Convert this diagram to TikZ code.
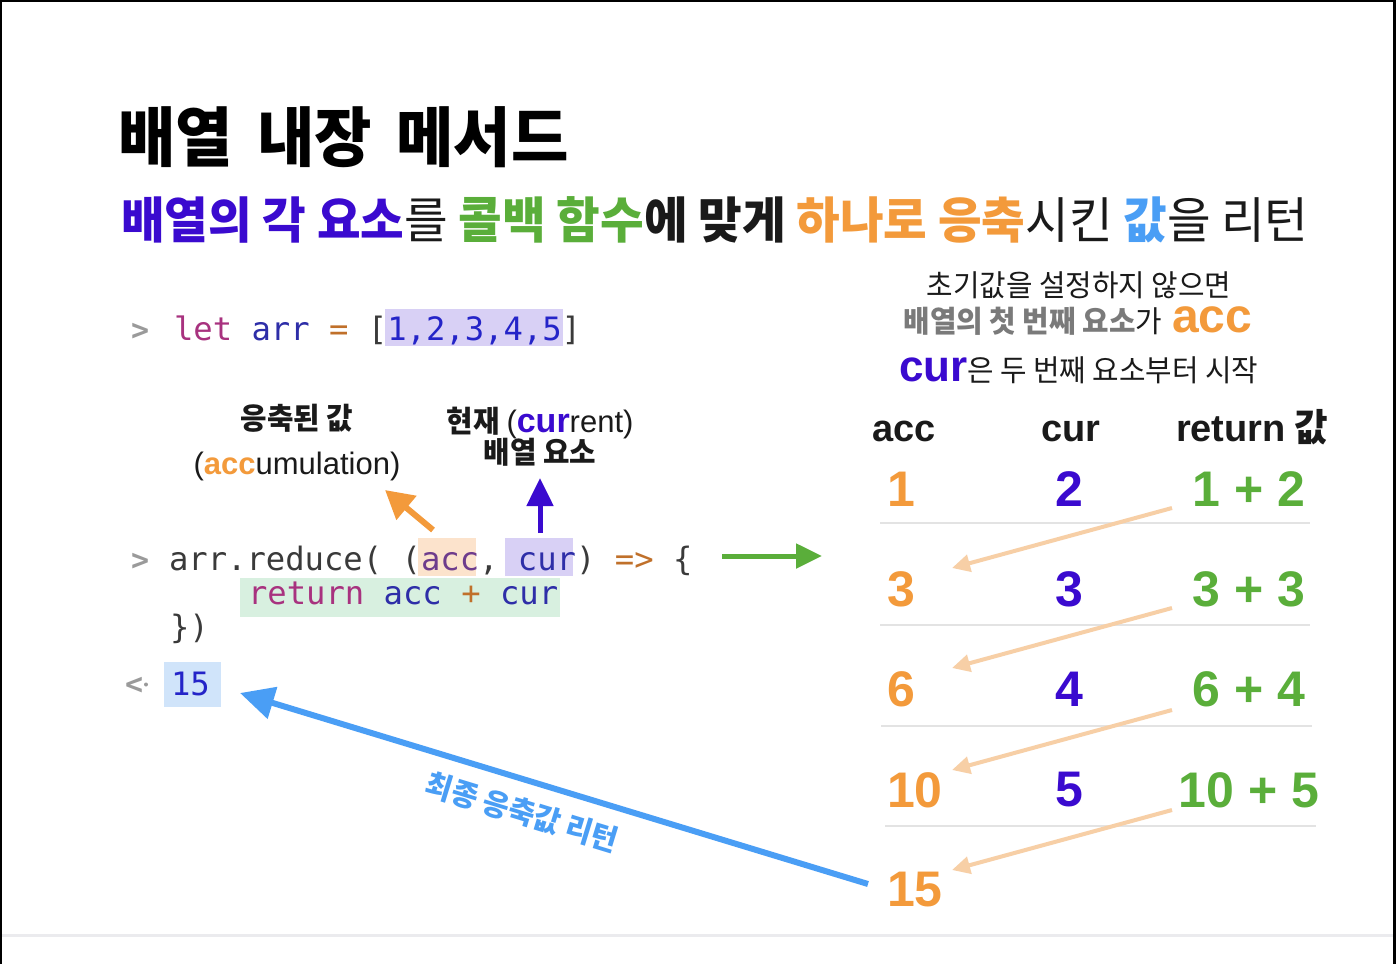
\documentclass[tikz,border=0pt]{standalone}
\usepackage{fontspec}
\usetikzlibrary{arrows.meta}
\newfontfamily\kr{Noto Sans CJK KR}[FakeStretch=0.96]
\newfontfamily\hv{Liberation Sans}
\newfontfamily\mono{DejaVu Sans Mono}
\newcommand\fsz[1]{\fontsize{#1}{#1}\selectfont}
\definecolor{cpurple}{HTML}{3A0ACF}
\definecolor{cgreen}{HTML}{5AAE3A}
\definecolor{corange}{HTML}{F39A3B}
\definecolor{cblue}{HTML}{4A9EF5}
\definecolor{lorange}{HTML}{F7CFA6}
\definecolor{cgray}{HTML}{7A7A7A}
\definecolor{ctext}{HTML}{1A1A1A}
\definecolor{cprompt}{HTML}{9A9A9A}
\definecolor{cmag}{HTML}{A8327F}
\definecolor{cdblue}{HTML}{2E2EA8}
\definecolor{cnum}{HTML}{2424C8}
\definecolor{ceq}{HTML}{C0702A}
\definecolor{cdark}{HTML}{3A3A3A}
\definecolor{cacc}{HTML}{6E3C8C}
\definecolor{hlpurple}{HTML}{D8D0F5}
\definecolor{hlorange}{HTML}{FCE3CC}
\definecolor{hlgreen}{HTML}{D8F0E0}
\definecolor{hlblue}{HTML}{D0E4FA}
\definecolor{sepgray}{HTML}{E3E3E3}
\definecolor{botgray}{HTML}{EBEBEE}
\begin{document}
\begin{tikzpicture}[x=1pt,y=-1pt,
  every node/.style={inner sep=0pt,outer sep=0pt},
  code/.style={font=\mono\fsz{32.2}},
  prompt/.style={font=\mono\bfseries\fsz{30},text=cprompt},
  tnum/.style={font=\hv\bfseries\fsz{50}},
  thead/.style={font=\hv\bfseries\fsz{38},text=ctext},
  lbl/.style={font=\kr\bfseries\fsz{30},text=ctext},
  stepline/.style={draw=lorange,line width=4pt,-{Triangle[length=18pt,width=17pt]}},
  sepline/.style={draw=sepgray,line width=2pt}
]
\path[fill=white] (0,0) rectangle (1396,964);
\useasboundingbox (0,0) rectangle (1396,964);
% frame
\draw[black,line width=2.5pt] (0,1.2) -- (1396,1.2);
\draw[black,line width=2pt] (1,0) -- (1,964);
\draw[black,line width=3pt] (1394.5,0) -- (1394.5,964);
\draw[draw=botgray,line width=3pt] (2,935) -- (1393,935);

% title
\node[anchor=west,font=\kr\bfseries\fsz{65},text=black] (title) at (118,137) {배열\hspace{10pt} 내장\hspace{10pt} 메서드};
% subtitle
\node[anchor=west,font=\kr\fsz{49.4},text=ctext] (sub) at (121,220)
 {{\bfseries\color{cpurple}배열의 각 요소}를 {\bfseries\color{cgreen}콜백 함수}{\bfseries 에 맞게} {\bfseries\color{corange}하나로 응축}시킨 {\bfseries\color{cblue}값}을 리턴};

% highlights
\fill[hlpurple] (385,309) rectangle (563,346);
\fill[hlorange] (418,538) rectangle (476,576);
\fill[hlpurple] (505,538) rectangle (573,576);
\fill[hlgreen] (240,578) rectangle (560,617);
\fill[hlblue] (164,662) rectangle (221,707);

% code
\node[prompt,anchor=base west] (p1) at (131,340) {>};
\node[code,anchor=base west] (l1) at (174,340)
 {\textcolor{cmag}{let} \textcolor{cdblue}{arr} \textcolor{ceq}{=} \textcolor{cdark}{[}\textcolor{cnum}{1,2,3,4,5}\textcolor{cdark}{]}};
\node[prompt,anchor=base west] (p2) at (131,570) {>};
\node[code,anchor=base west] (l2) at (169,570)
 {\textcolor{cdark}{arr.reduce( (}\textcolor{cacc}{acc}\textcolor{cdark}{,} \textcolor{cdblue}{cur}\textcolor{cdark}{)} \textcolor{ceq}{=>} \textcolor{cdark}{\{}};
\node[code,anchor=base west] (l3) at (248,604)
 {\textcolor{cmag}{return} \textcolor{cdblue}{acc} \textcolor{ceq}{+} \textcolor{cdblue}{cur}};
\node[code,anchor=base west,text=cdark] (l4) at (170,638) {\})};
\node[prompt,anchor=base west] (p5) at (125,694) {<};
\fill[cprompt] (146,684.5) circle (2pt);
\node[code,anchor=base west,text=cnum] (res) at (171,695) {15};

% labels
\node[lbl,anchor=center] (lab1) at (297,418) {응축된 값};
\node[anchor=base,font=\hv\fsz{31},text=ctext] (lab2) at (297,474)
 {({\bfseries\color{corange}acc}umulation)};
\node[anchor=base,text=ctext] (lab3) at (540,432)
 {{\kr\bfseries\fsz{30}현재}\hspace{7pt}{\hv\fsz{31}(}{\hv\bfseries\fsz{34}\color{cpurple}cur}{\hv\fsz{31}rent)}};
\node[lbl,anchor=center] (lab4) at (540,452) {배열 요소};

\coordinate (oa1) at (433,530); \coordinate (oa2) at (385,490);
\draw[draw=corange,line width=6pt,-{Triangle[length=28pt,width=30pt]}] (oa1) -- (oa2);
\coordinate (pa1) at (540,533); \coordinate (pa2) at (540,478);
\draw[draw=cpurple,line width=5pt,-{Triangle[length=28pt,width=26pt]}] (pa1) -- (pa2);
\coordinate (ga1) at (722,556); \coordinate (ga2) at (822,556);
\draw[draw=cgreen,line width=5pt,-{Triangle[length=26pt,width=24pt]}] (ga1) -- (ga2);

% right note
\node[anchor=center,font=\kr\fsz{30},text=ctext] (n1) at (1079,285) {초기값을 설정하지 않으면};
\node[anchor=base,text=ctext] (n2) at (1078,332)
 {{\kr\bfseries\fsz{30}\color{cgray}배열의 첫 번째 요소}{\kr\fsz{30}가}\hspace{10pt}{\hv\bfseries\fsz{48}\color{corange}acc}};
\node[anchor=base west,text=ctext] (n3) at (899,381)
 {{\hv\bfseries\fsz{44}\color{cpurple}cur}{\kr\fsz{30}은 두 번째 요소부터 시작}};

% table
\node[thead,anchor=base west] (h1) at (872,441) {acc};
\node[thead,anchor=base] (h2) at (1071,441) {cur};
\node[thead,anchor=base west] (h3) at (1176,441) {return\hspace{9pt}{\kr\bfseries 값}};

\node[tnum,anchor=west,text=corange] (a1) at (887,489) {1};
\node[tnum,anchor=west,text=corange] (a2) at (887,589) {3};
\node[tnum,anchor=west,text=corange] (a3) at (887,689) {6};
\node[tnum,anchor=west,text=corange] (a4) at (887,790) {10};
\node[tnum,anchor=west,text=corange] (a5) at (887,890) {15};
\node[tnum,text=cpurple] (c1) at (1069,489) {2};
\node[tnum,text=cpurple] (c2) at (1069,589) {3};
\node[tnum,text=cpurple] (c3) at (1069,689) {4};
\node[tnum,text=cpurple] (c4) at (1069,790) {5};
\node[tnum,text=cgreen] (r1) at (1249,489) {1 + 2};
\node[tnum,text=cgreen] (r2) at (1249,589) {3 + 3};
\node[tnum,text=cgreen] (r3) at (1249,689) {6 + 4};
\node[tnum,text=cgreen] (r4) at (1249,790) {10 + 5};

\draw[sepline] (880,523) -- (1310,523);
\draw[sepline] (880,625) -- (1310,625);
\draw[sepline] (881,726) -- (1312,726);
\draw[sepline] (885,826) -- (1316,826);

\coordinate (s1) at (1172,508); \coordinate (t1) at (952,568);
\coordinate (s2) at (1172,608); \coordinate (t2) at (952,668);
\coordinate (s3) at (1172,710); \coordinate (t3) at (952,770);
\coordinate (s4) at (1172,810); \coordinate (t4) at (952,870);
\draw[stepline] (s1) -- (t1);
\draw[stepline] (s2) -- (t2);
\draw[stepline] (s3) -- (t3);
\draw[stepline] (s4) -- (t4);

% final blue arrow
\coordinate (b1) at (868,884); \coordinate (b2) at (240,693);
\draw[draw=cblue,line width=6pt,-{Triangle[length=34pt,width=32pt]}] (b1) -- (b2);
\node[rotate=-17,font=\kr\bfseries\fsz{30},text=cblue] (blab) at (522,812) {최종 응축값 리턴};
\end{tikzpicture}
\end{document}
